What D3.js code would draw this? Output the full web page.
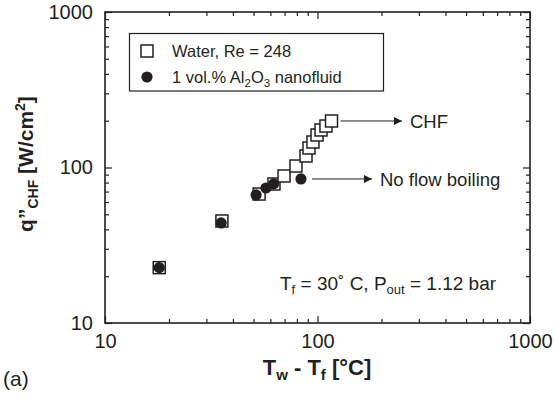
<!DOCTYPE html>
<html><head><meta charset="utf-8">
<script src="https://cdn.jsdelivr.net/npm/d3@7"></script>
<style>
body{margin:0;background:#fff}
text{font-family:"Liberation Sans",Arial,Helvetica,sans-serif;fill:#231f20}
</style>
</head><body><svg id="c" width="555" height="399"></svg>
<script>
// ---- data ----
const waterX = [18.0, 35.5, 53.1, 62.4, 69.6, 79.2, 88.3, 91.2, 95.2, 99.5, 103.9, 109.6, 116.4];
const waterY = [22.7, 45.3, 67.5, 78.3, 88.2, 102.2, 118.6, 133.5, 145.9, 161.8, 174.3, 184.8, 199.1];
const nanoX = [18.0, 35.2, 51.4, 57.2, 62.2, 83.6];
const nanoY = [22.7, 44.0, 66.6, 73.8, 78.5, 84.4];
const xMajor = [10, 100, 1000];
const yMajor = [10, 100, 1000];
const legendLabels = ["Water, Re = 248", "1 vol.% Al2O3 nanofluid"];

const INK = "#231f20";
const svg = d3.select("#c");
const L = 105, R = 530, T = 12, B = 323;
const x = d3.scaleLog().domain([10, 1000]).range([L, R]);
const y = d3.scaleLog().domain([10, 1000]).range([B, T]);

function minors(dom) {
  const out = [];
  for (let d = dom[0]; d < dom[1]; d *= 10)
    for (let k = 2; k <= 9; k++) out.push(d * k);
  return out;
}
const xMinor = minors([10, 1000]);
const yMinor = minors([10, 1000]);

function styleAxis(g) {
  g.select(".domain").remove();
  g.selectAll("line").attr("stroke", INK).attr("stroke-width", 1.2);
  g.selectAll("text").attr("font-size", 20).attr("fill", INK)
    .attr("font-family", '"Liberation Sans",Arial,sans-serif');
}

// bottom
svg.append("g").attr("transform", `translate(0,${B})`)
  .call(d3.axisBottom(x).tickValues(xMajor).tickFormat(d3.format("d")).tickSizeInner(-7).tickSizeOuter(0).tickPadding(11))
  .call(styleAxis);
svg.append("g").attr("transform", `translate(0,${B})`)
  .call(d3.axisBottom(x).tickValues(xMinor).tickFormat("").tickSizeInner(-4).tickSizeOuter(0))
  .call(styleAxis);
// top
svg.append("g").attr("transform", `translate(0,${T})`)
  .call(d3.axisTop(x).tickValues(xMajor).tickFormat("").tickSizeInner(-7).tickSizeOuter(0))
  .call(styleAxis);
svg.append("g").attr("transform", `translate(0,${T})`)
  .call(d3.axisTop(x).tickValues(xMinor).tickFormat("").tickSizeInner(-4).tickSizeOuter(0))
  .call(styleAxis);
// left
svg.append("g").attr("transform", `translate(${L},0)`)
  .call(d3.axisLeft(y).tickValues(yMajor).tickFormat(d3.format("d")).tickSizeInner(-7).tickSizeOuter(0).tickPadding(12))
  .call(styleAxis);
svg.append("g").attr("transform", `translate(${L},0)`)
  .call(d3.axisLeft(y).tickValues(yMinor).tickFormat("").tickSizeInner(-4).tickSizeOuter(0))
  .call(styleAxis);
// right
svg.append("g").attr("transform", `translate(${R},0)`)
  .call(d3.axisRight(y).tickValues(yMajor).tickFormat("").tickSizeInner(-7).tickSizeOuter(0))
  .call(styleAxis);
svg.append("g").attr("transform", `translate(${R},0)`)
  .call(d3.axisRight(y).tickValues(yMinor).tickFormat("").tickSizeInner(-4).tickSizeOuter(0))
  .call(styleAxis);

// frame
svg.append("rect").attr("x", L).attr("y", T).attr("width", R - L).attr("height", B - T)
  .attr("fill", "none").attr("stroke", INK).attr("stroke-width", 1.6);

// axis titles
const xt = svg.append("text").attr("x", 317).attr("y", 375).attr("text-anchor", "middle")
  .attr("font-size", 22).attr("font-weight", "bold");
xt.append("tspan").text("T");
xt.append("tspan").attr("font-size", 15).attr("dy", 5).text("w");
xt.append("tspan").attr("dy", -5).text(" - T");
xt.append("tspan").attr("font-size", 15).attr("dy", 5).text("f");
xt.append("tspan").attr("dy", -5).text(" [°C]");

const yt = svg.append("text").attr("transform", "translate(33,164) rotate(-90)")
  .attr("text-anchor", "middle").attr("font-size", 21).attr("font-weight", "bold");
yt.append("tspan").text("q\u201D");
yt.append("tspan").attr("font-size", 14).attr("dy", 5).text("CHF");
yt.append("tspan").attr("dy", -5).text(" [W/cm");
yt.append("tspan").attr("font-size", 14).attr("dy", -8).text("2");
yt.append("tspan").attr("dy", 8).text("]");

// (a)
svg.append("text").attr("x", 3).attr("y", 386).attr("font-size", 21)
  .attr("font-family", '"Liberation Serif","Times New Roman",serif').text("(a)");

// data: water squares (white filled)
const S = 12;
const wdata = waterX.map((v, i) => [v, waterY[i]]);
svg.append("g").selectAll("rect").data(wdata).join("rect")
  .attr("x", d => x(d[0]) - S / 2).attr("y", d => y(d[1]) - S / 2)
  .attr("width", S).attr("height", S)
  .attr("fill", "#fff").attr("stroke", INK).attr("stroke-width", 1.5);

const ndata = nanoX.map((v, i) => [v, nanoY[i]]);
svg.append("g").selectAll("circle").data(ndata).join("circle")
  .attr("cx", d => x(d[0])).attr("cy", d => y(d[1])).attr("r", 5.6)
  .attr("fill", INK);

// arrows
svg.append("defs").append("marker").attr("id", "ah").attr("viewBox", "0 0 10 10")
  .attr("refX", 10).attr("refY", 5).attr("markerWidth", 22).attr("markerHeight", 8)
  .attr("markerUnits", "userSpaceOnUse").attr("orient", "auto")
  .append("path").attr("d", "M0,0 L10,5 L0,10 Z").attr("fill", INK);

const chf = wdata[wdata.length - 1];
svg.append("line").attr("x1", x(chf[0]) + 9).attr("x2", 402)
  .attr("y1", y(chf[1])).attr("y2", y(chf[1]))
  .attr("stroke", INK).attr("stroke-width", 1).attr("marker-end", "url(#ah)");
svg.append("text").attr("x", 410).attr("y", y(chf[1]) + 6.8).attr("font-size", 18.5).text("CHF");

const nfb = ndata[ndata.length - 1];
svg.append("line").attr("x1", x(nfb[0]) + 11).attr("x2", 372)
  .attr("y1", y(nfb[1])).attr("y2", y(nfb[1]))
  .attr("stroke", INK).attr("stroke-width", 1).attr("marker-end", "url(#ah)");
svg.append("text").attr("x", 380).attr("y", y(nfb[1]) + 6.8).attr("font-size", 18.5).text("No flow boiling");

// conditions text
const ct = svg.append("text").attr("x", 280).attr("y", 290).attr("font-size", 19);
ct.append("tspan").text("T");
ct.append("tspan").attr("font-size", 13).attr("dy", 4).text("f");
ct.append("tspan").attr("dy", -4).text(" = 30\u02DA  C, P");
ct.append("tspan").attr("font-size", 13).attr("dy", 4).text("out");
ct.append("tspan").attr("dy", -4).text(" = 1.12 bar");

// legend
const lg = svg.append("g");
lg.append("rect").attr("x", 129.5).attr("y", 33.5).attr("width", 254).attr("height", 57.5)
  .attr("fill", "#fff").attr("stroke", INK).attr("stroke-width", 1.2);
lg.append("rect").attr("x", 141).attr("y", 45).attr("width", S).attr("height", S)
  .attr("fill", "#fff").attr("stroke", INK).attr("stroke-width", 1.5);
lg.append("circle").attr("cx", 147).attr("cy", 77).attr("r", 5.6).attr("fill", INK);
lg.append("text").attr("x", 172).attr("y", 56.5).attr("font-size", 16.5).text(legendLabels[0]);
const l2 = lg.append("text").attr("x", 172).attr("y", 82.5).attr("font-size", 16.5);
l2.append("tspan").text("1 vol.% Al");
l2.append("tspan").attr("font-size", 11.5).attr("dy", 4).text("2");
l2.append("tspan").attr("dy", -4).text("O");
l2.append("tspan").attr("font-size", 11.5).attr("dy", 4).text("3");
l2.append("tspan").attr("dy", -4).text(" nanofluid");
</script>
</body></html>
